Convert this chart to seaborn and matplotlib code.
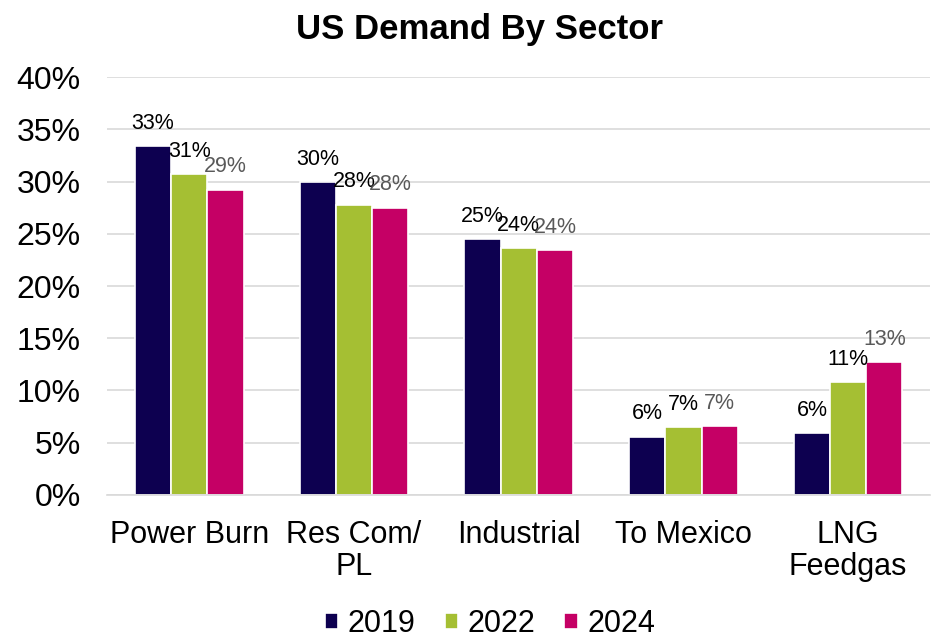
import matplotlib
matplotlib.use("Agg")
import matplotlib.pyplot as plt
import seaborn as sns
import pandas as pd
import numpy as np

categories = ["Power Burn", "Res Com/\nPL", "Industrial", "To Mexico", "LNG\nFeedgas"]
years = ["2019", "2022", "2024"]
v2019 = [33.4, 29.95, 24.5, 5.55, 5.9]
v2022 = [30.7, 27.8, 23.6, 6.5, 10.8]
v2024 = [29.2, 27.5, 23.4, 6.6, 12.7]
labels2019 = ["33%", "30%", "25%", "6%", "6%"]
labels2022 = ["31%", "28%", "24%", "7%", "11%"]
labels2024 = ["29%", "28%", "24%", "7%", "13%"]

colors = {"2019": "#0D0050", "2022": "#A5BF33", "2024": "#C50065"}
label_colors = {"2019": "#000000", "2022": "#000000", "2024": "#595959"}

rows = []
for yr, vals in zip(years, [v2019, v2022, v2024]):
    for c, v in zip(categories, vals):
        rows.append({"Sector": c, "Year": yr, "Value": v})
df = pd.DataFrame(rows)

sns.set_theme(style="white")
plt.rcParams['font.family'] = ['Liberation Sans', 'DejaVu Sans']
plt.rcParams['text.color'] = 'black'
plt.rcParams['xtick.color'] = 'black'
plt.rcParams['ytick.color'] = 'black'

fig = plt.figure(figsize=(9.38, 6.37), dpi=100)
ax = fig.add_axes([0.114, 0.223, 0.878, 0.656])

sns.barplot(data=df, x="Sector", y="Value", hue="Year", hue_order=years,
            order=categories, palette=colors, saturation=1, width=0.66,
            edgecolor="white", linewidth=1.2, ax=ax, legend=True)

label_map = {"2019": labels2019, "2022": labels2022, "2024": labels2024}
for cont, yr in zip(ax.containers, years):
    ax.bar_label(cont, labels=label_map[yr], padding=9, fontsize=15.5,
                 color=label_colors[yr])

ax.set_ylim(0, 40)
ax.set_yticks(np.arange(0, 41, 5))
ax.set_yticklabels([f"{t}%" for t in range(0, 41, 5)], fontsize=23)
ax.yaxis.grid(True, color="#D9D9D9", linewidth=1.2)
ax.set_axisbelow(True)
ax.set_xlim(-0.5, 4.5)
ax.tick_params(axis="x", which="major", length=0, labelsize=22, pad=18)
ax.tick_params(axis="y", length=0, pad=19)
ax.set_xticks(np.arange(-0.5, 5, 1), minor=True)
ax.tick_params(axis="x", which="minor", length=7, color="#D9D9D9", width=1.2)
for lbl in ax.get_xticklabels():
    lbl.set_linespacing(1.1)
ax.set_xlabel("")
ax.set_ylabel("")
for s in ["top", "right", "left"]:
    ax.spines[s].set_visible(False)
ax.spines["bottom"].set_color("#D9D9D9")
ax.spines["bottom"].set_linewidth(1.2)

fig.suptitle("US Demand By Sector", fontsize=25, fontweight="bold", x=0.5115, y=0.98)

handles, lbls = ax.get_legend_handles_labels()
ax.legend(handles, lbls, loc="lower center", bbox_to_anchor=(0.465, -0.41),
          ncol=3, frameon=False, fontsize=22, handlelength=0.45, handleheight=0.45,
          handletextpad=0.3, columnspacing=0.95)

fig.savefig("out.png", dpi=100)
